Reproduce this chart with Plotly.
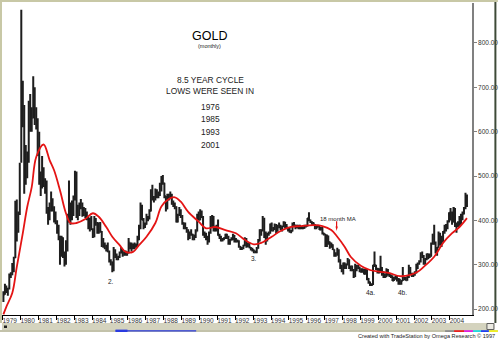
import pandas as pd
import plotly.graph_objects as go

# ---- monthly gold bars, Jan 1979 .. Dec 2004 (one row per year) ----
OPEN = [
    226, 233, 251, 240, 246, 275, 278, 296, 315, 397, 382, 415,  # 1979
    540, 653, 637, 494, 517, 535, 653, 614, 631, 666, 629, 619,  # 1980
    590, 500, 489, 513, 482, 479, 426, 406, 425, 428, 427, 414,  # 1981
    397, 387, 362, 320, 361, 326, 315, 342, 411, 397, 423, 414,  # 1982
    448, 481, 409, 414, 429, 437, 416, 422, 414, 405, 382, 405,  # 1983
    380, 363, 394, 394, 374, 394, 374, 343, 348, 341, 333, 329,  # 1984
    309, 306, 299, 325, 322, 317, 318, 327, 333, 326, 325, 325,  # 1985
    327, 350, 338, 344, 345, 343, 345, 357, 384, 423, 401, 388,  # 1986
    391, 405, 405, 421, 452, 451, 447, 462, 453, 460, 468, 492,  # 1987
    484, 455, 426, 457, 449, 455, 437, 437, 430, 397, 412, 422,  # 1988
    410, 394, 387, 383, 377, 361, 373, 368, 359, 366, 375, 408,  # 1989
    401, 415, 407, 368, 368, 363, 352, 372, 387, 408, 380, 384,  # 1990
    386, 366, 362, 355, 357, 360, 368, 362, 347, 355, 357, 366,  # 1991
    353, 354, 353, 341, 336, 337, 343, 357, 341, 349, 339, 334,  # 1992
    333, 329, 329, 337, 354, 378, 377, 401, 372, 355, 369, 371,  # 1993
    391, 378, 381, 389, 376, 387, 385, 383, 386, 395, 389, 384,  # 1994
    383, 375, 376, 392, 389, 385, 387, 383, 382, 384, 383, 387,  # 1995
    387, 405, 400, 396, 392, 391, 382, 385, 387, 379, 379, 371,  # 1996
    369, 345, 364, 351, 340, 345, 334, 326, 324, 332, 311, 297,  # 1997
    290, 303, 297, 301, 310, 294, 296, 288, 273, 294, 292, 294,  # 1998
    288, 287, 288, 279, 286, 268, 261, 255, 254, 299, 299, 291,  # 1999
    290, 283, 293, 277, 274, 273, 288, 277, 277, 273, 264, 270,  # 2000
    273, 265, 267, 258, 264, 267, 270, 265, 273, 293, 279, 275,  # 2001
    279, 282, 297, 302, 308, 326, 318, 304, 312, 324, 317, 319,  # 2002
    347, 368, 348, 335, 339, 364, 346, 354, 375, 385, 386, 398,  # 2003
    417, 400, 397, 427, 388, 393, 395, 391, 408, 415, 428, 452,  # 2004
]
HIGH = [
    240, 257, 253, 248, 280, 283, 304, 318, 444, 447, 420, 530,  # 1979
    875, 715, 660, 570, 555, 670, 685, 655, 725, 700, 655, 630,  # 1980
    600, 510, 545, 520, 495, 490, 430, 440, 465, 450, 432, 420,  # 1981
    400, 390, 365, 365, 362, 330, 355, 415, 490, 440, 445, 456,  # 1982
    512, 510, 435, 440, 448, 440, 430, 428, 420, 408, 405, 410,  # 1983
    382, 410, 405, 396, 395, 396, 376, 360, 350, 345, 350, 332,  # 1984
    312, 307, 340, 335, 325, 320, 330, 340, 335, 330, 332, 330,  # 1985
    360, 350, 350, 348, 350, 348, 365, 390, 440, 435, 405, 395,  # 1986
    415, 410, 425, 470, 480, 455, 472, 470, 465, 485, 500, 502,  # 1987
    485, 455, 460, 460, 465, 460, 445, 440, 432, 415, 430, 425,  # 1988
    412, 395, 395, 385, 380, 375, 380, 370, 368, 380, 415, 420,  # 1989
    425, 422, 410, 375, 372, 365, 375, 410, 412, 410, 388, 390,  # 1990
    402, 370, 365, 360, 362, 370, 370, 365, 358, 362, 370, 367,  # 1991
    360, 357, 355, 342, 340, 345, 362, 360, 350, 350, 340, 338,  # 1992
    334, 332, 340, 358, 380, 380, 410, 406, 375, 372, 375, 393,  # 1993
    395, 385, 393, 392, 390, 395, 390, 388, 398, 397, 392, 385,  # 1994
    384, 378, 395, 396, 390, 390, 390, 390, 387, 386, 390, 390,  # 1995
    405, 418, 402, 398, 396, 392, 390, 390, 388, 385, 385, 372,  # 1996
    369, 368, 366, 352, 350, 346, 335, 328, 338, 335, 312, 300,  # 1997
    305, 305, 302, 315, 312, 298, 298, 290, 302, 300, 300, 295,  # 1998
    292, 292, 290, 290, 290, 270, 262, 258, 300, 330, 300, 293,  # 1999
    292, 320, 295, 285, 280, 292, 290, 282, 278, 276, 272, 275,  # 2000
    275, 270, 268, 265, 295, 272, 272, 275, 300, 295, 282, 282,  # 2001
    285, 302, 305, 310, 328, 330, 322, 315, 325, 325, 325, 350,  # 2002
    370, 390, 352, 340, 375, 372, 365, 376, 390, 392, 400, 418,  # 2003
    428, 420, 430, 428, 395, 398, 410, 415, 420, 430, 462, 458,  # 2004
]
LOW = [
    216, 232, 236, 230, 244, 270, 276, 283, 315, 352, 372, 412,  # 1979
    530, 610, 460, 480, 495, 530, 600, 600, 630, 615, 605, 545,  # 1980
    480, 455, 472, 475, 460, 415, 390, 400, 420, 420, 395, 391,  # 1981
    370, 355, 300, 318, 315, 296, 300, 330, 395, 390, 400, 410,  # 1982
    445, 405, 400, 410, 425, 408, 410, 405, 400, 380, 375, 378,  # 1983
    360, 362, 388, 370, 370, 372, 340, 338, 335, 330, 328, 305,  # 1984
    298, 283, 285, 315, 310, 310, 315, 325, 318, 320, 320, 320,  # 1985
    325, 335, 330, 335, 335, 338, 340, 355, 380, 400, 380, 383,  # 1986
    390, 398, 402, 420, 445, 440, 445, 450, 450, 455, 465, 480,  # 1987
    450, 420, 425, 445, 448, 435, 430, 425, 395, 395, 410, 405,  # 1988
    390, 380, 380, 372, 355, 358, 365, 355, 355, 360, 375, 400,  # 1989
    400, 405, 365, 360, 355, 345, 350, 370, 385, 375, 375, 375,  # 1990
    365, 358, 352, 352, 355, 358, 358, 345, 345, 355, 355, 350,  # 1991
    350, 350, 338, 333, 333, 335, 342, 338, 340, 337, 332, 330,  # 1992
    326, 326, 326, 336, 352, 365, 375, 360, 345, 352, 365, 370,  # 1993
    375, 375, 378, 370, 375, 382, 378, 375, 385, 383, 380, 375,  # 1994
    372, 371, 375, 386, 380, 382, 380, 380, 380, 380, 381, 384,  # 1995
    386, 398, 394, 390, 388, 380, 380, 384, 378, 378, 368, 366,  # 1996
    340, 340, 345, 336, 338, 333, 318, 318, 320, 305, 290, 283,  # 1997
    278, 290, 290, 298, 290, 285, 285, 270, 272, 285, 290, 283,  # 1998
    282, 282, 278, 278, 265, 257, 252, 252, 254, 295, 288, 280,  # 1999
    280, 282, 275, 270, 270, 272, 275, 272, 270, 263, 263, 266,  # 2000
    262, 255, 255, 255, 263, 265, 264, 264, 270, 277, 272, 272,  # 2001
    275, 280, 290, 300, 305, 315, 300, 300, 310, 312, 315, 318,  # 2002
    345, 345, 325, 320, 338, 343, 340, 350, 370, 375, 380, 395,  # 2003
    400, 390, 395, 385, 372, 385, 385, 390, 400, 413, 425, 430,  # 2004
]
CLOSE = [
    233, 251, 240, 246, 275, 278, 296, 315, 397, 382, 415, 524,  # 1979
    653, 637, 494, 517, 535, 653, 614, 631, 666, 629, 619, 589,  # 1980
    500, 489, 513, 482, 479, 426, 406, 425, 428, 427, 414, 397,  # 1981
    387, 362, 320, 361, 326, 315, 342, 411, 397, 423, 414, 448,  # 1982
    481, 409, 414, 429, 437, 416, 422, 414, 405, 382, 405, 380,  # 1983
    363, 394, 394, 374, 394, 374, 343, 348, 341, 333, 329, 309,  # 1984
    306, 299, 325, 322, 317, 318, 327, 333, 326, 325, 325, 327,  # 1985
    350, 338, 344, 345, 343, 345, 357, 384, 423, 401, 388, 391,  # 1986
    405, 405, 421, 452, 451, 447, 462, 453, 460, 468, 492, 484,  # 1987
    455, 426, 457, 449, 455, 437, 437, 430, 397, 412, 422, 410,  # 1988
    394, 387, 383, 377, 361, 373, 368, 359, 366, 375, 408, 401,  # 1989
    415, 407, 368, 368, 363, 352, 372, 387, 408, 380, 384, 386,  # 1990
    366, 362, 355, 357, 360, 368, 362, 347, 355, 357, 366, 353,  # 1991
    354, 353, 341, 336, 337, 343, 357, 341, 349, 339, 334, 333,  # 1992
    329, 329, 337, 354, 378, 377, 401, 372, 355, 369, 371, 391,  # 1993
    378, 381, 389, 376, 387, 385, 383, 386, 395, 389, 384, 383,  # 1994
    375, 376, 392, 389, 385, 387, 383, 382, 384, 383, 387, 387,  # 1995
    405, 400, 396, 392, 391, 382, 385, 387, 379, 379, 371, 369,  # 1996
    345, 364, 351, 340, 345, 334, 326, 324, 332, 311, 297, 290,  # 1997
    303, 297, 301, 310, 294, 296, 288, 273, 294, 292, 294, 288,  # 1998
    287, 288, 279, 286, 268, 261, 255, 254, 299, 299, 291, 290,  # 1999
    283, 293, 277, 274, 273, 288, 277, 277, 273, 264, 270, 273,  # 2000
    265, 267, 258, 264, 267, 270, 265, 273, 293, 279, 275, 279,  # 2001
    282, 297, 302, 308, 326, 318, 304, 312, 324, 317, 319, 347,  # 2002
    368, 348, 335, 339, 364, 346, 354, 375, 385, 386, 398, 417,  # 2003
    400, 397, 427, 388, 393, 395, 391, 408, 415, 428, 452, 438,  # 2004
]

# ---- 18-month moving average (red line) ----
MA_DATES = [
    "1979-01", "1979-03", "1979-07", "1979-10", "1980-02", "1980-05", "1980-08",
    "1980-11", "1981-04", "1981-08", "1981-11", "1982-03", "1982-07", "1982-10",
    "1983-02", "1983-08", "1984-01", "1984-05", "1984-10", "1985-02", "1985-07",
    "1985-11", "1986-04", "1986-08", "1987-01", "1987-07", "1987-11", "1988-04",
    "1988-08", "1988-12", "1989-05", "1989-12", "1990-05", "1990-11", "1991-06",
    "1992-01", "1992-07", "1993-01", "1993-06", "1994-01", "1994-07", "1995-02",
    "1995-08", "1996-06", "1996-11", "1997-05", "1997-09", "1998-02", "1998-06",
    "1999-01", "1999-07", "2000-02", "2000-08", "2001-03", "2001-10", "2002-03",
    "2002-07", "2003-02", "2003-08", "2004-02", "2004-07", "2004-12",
]
MA_VALUES = [
    188, 205, 236, 295, 371, 430, 475,
    543, 571, 536, 513, 468, 416, 394,
    394, 403, 416, 408, 385, 363, 344,
    329, 329, 344, 363, 394, 431, 448,
    452, 442, 419, 397, 382, 385, 378,
    371, 356, 346, 349, 363, 376, 385,
    387, 389, 387, 378, 363, 340, 318,
    297, 288, 284, 281, 274, 277, 284,
    295, 318, 349, 371, 385, 405,
]

Y_TICKS = [200, 300, 400, 500, 600, 700, 800]
Y_TICK_TEXT = [f"{v:.2f}" for v in Y_TICKS]
X_YEARS = list(range(1979, 2005))

NOTES = ["8.5 YEAR CYCLE", "LOWS WERE SEEN IN", "1976", "1985", "1993", "2001"]
LOW_MARKS = [("1985-01-15", 261, "2."), ("1993-01-20", 313, "3."),
             ("1999-08-01", 238, "4a."), ("2001-05-01", 238, "4b.")]

# ---- canvas geometry (pixels) ----
W, H = 500, 339
L, R, T, B = 2, 26, 3, 24
PW, PH = W - L - R, H - T - B


def px(x):
    return (x - L) / PW


def py(y):
    return (H - B - y) / PH


months = pd.date_range("1979-01-01", periods=len(CLOSE), freq="MS") + pd.Timedelta(days=14)
FONT = "Arial, Liberation Sans, sans-serif"
BAR = "#1e1e1e"

fig = go.Figure()
fig.add_trace(go.Ohlc(
    x=months, open=OPEN, high=HIGH, low=LOW, close=CLOSE,
    increasing=dict(line=dict(color=BAR, width=2)),
    decreasing=dict(line=dict(color=BAR, width=2)),
    tickwidth=0.5, showlegend=False, hoverinfo="skip",
))
fig.add_trace(go.Scatter(
    x=pd.to_datetime(MA_DATES) + pd.Timedelta(days=14), y=MA_VALUES,
    mode="lines", line=dict(color="#e41414", width=1.8, shape="spline", smoothing=1.0),
    showlegend=False, hoverinfo="skip",
))

shapes = []


def rect(x0, y0, x1, y1, fill, line=None):
    shapes.append(dict(type="rect", xref="paper", yref="paper",
                       x0=px(x0), x1=px(x1), y0=py(y1), y1=py(y0),
                       fillcolor=fill, line=dict(width=0) if line is None else line,
                       layer="above"))


# window frame
rect(0, 0, 500, 2, "#c8c8a6")
rect(0, 0, 2, 323, "#c8c8a6")
rect(496.5, 2, 498.5, 323, "#3e4a38")
# scroll strip along the bottom
rect(2, 323, 496.5, 330, "#d4d3be")
rect(0, 330, 500, 332, "#c3c2aa")
rect(4, 325.5, 7, 328, "#202020")
rect(489, 323.5, 496, 329.5, "#ecebe2", dict(color="#606060", width=1))
rect(116, 330.2, 197, 331.5, "#2a3ae0")
rect(116, 329.6, 128, 332, "#2a3ae0")
for x0, x1, c in [(447, 456, "#8c8c8c"), (456, 466, "#e82020"), (466, 475, "#e020e0"),
                  (475, 483, "#20d8e0"), (483, 491, "#2040f0"), (491, 500, "#f0f020")]:
    rect(x0, 330.2, x1, 332, c)

# red arrow marking the moving average
shapes.append(dict(type="line", xref="x", yref="y", x0="1997-09-01", x1="1997-09-01",
                   y0=398, y1=382, line=dict(color="#e41414", width=1.2)))
shapes.append(dict(type="path", xref="x", yref="y",
                   path="M 1997-08-10,386 L 1997-09-24,386 L 1997-09-01,376 Z",
                   fillcolor="#e41414", line=dict(width=0)))

ann = []
ann.append(dict(x=px(210), y=py(36), text="GOLD", font=dict(size=12.5, color="#000")))
ann.append(dict(x=px(210), y=py(46), text="(monthly)", font=dict(size=5.5, color="#222")))
for (txt, yy) in zip(NOTES, [80, 91, 107, 119, 132, 145]):
    ann.append(dict(x=px(211), y=py(yy), text=txt, font=dict(size=8.4, color="#222")))
for a in ann:
    a.update(xref="paper", yref="paper", showarrow=False, xanchor="center", yanchor="middle",
             font=dict(family=FONT, **a["font"]))
for d, v, t in LOW_MARKS:
    ann.append(dict(x=d, y=v, xref="x", yref="y", text=t, showarrow=False,
                    font=dict(family=FONT, size=6.5, color="#222")))
ann.append(dict(x="1997-10-01", y=403, xref="x", yref="y", text="18 month MA", showarrow=False,
                font=dict(family=FONT, size=6, color="#222")))
ann.append(dict(x=px(499), y=py(335.5), xref="paper", yref="paper", xanchor="right",
                yanchor="middle", showarrow=False,
                text="Created with TradeStation by Omega Research © 1997",
                font=dict(family=FONT, size=5.6, color="#222")))

fig.update_layout(
    width=W, height=H,
    margin=dict(l=L, r=R, t=T, b=B, pad=0),
    paper_bgcolor="#ffffff", plot_bgcolor="#ffffff",
    font=dict(family=FONT, color="#333"),
    shapes=shapes, annotations=ann,
    xaxis=dict(
        type="date", range=["1978-12-17", "2005-03-28"],
        rangeslider=dict(visible=False),
        showgrid=False, zeroline=False,
        showline=True, linecolor="#000", linewidth=1,
        ticks="outside", ticklen=4, tickcolor="#000", tickwidth=1,
        tickvals=[f"{y}-01-01" for y in X_YEARS], ticktext=[str(y) for y in X_YEARS],
        tickfont=dict(size=6.5, color="#333"),
        ticklabelshift=7, ticklabelstandoff=-5,
    ),
    yaxis=dict(
        side="right", range=[186.5, 890.2],
        tickvals=Y_TICKS, ticktext=Y_TICK_TEXT,
        showgrid=False, zeroline=False,
        showline=True, linecolor="#808080", linewidth=1.5,
        ticks="outside", ticklen=3, tickcolor="#808080",
        tickfont=dict(size=6.5, color="#333"),
    ),
)

fig.write_html("out.html")
